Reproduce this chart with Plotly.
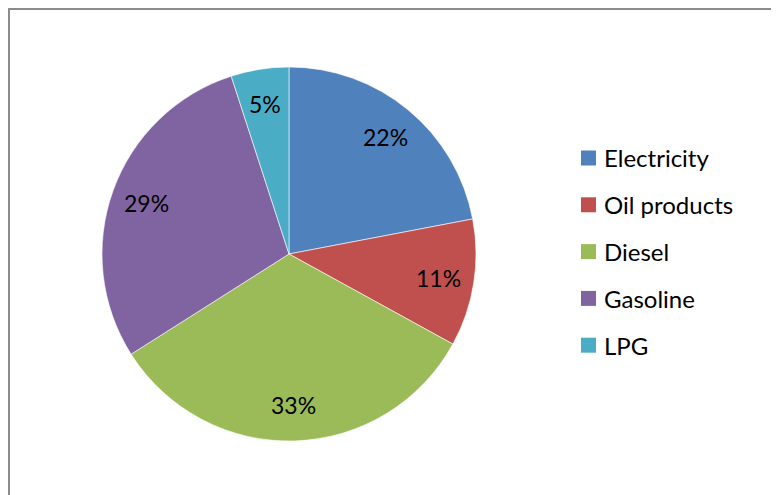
import numpy as np
import plotly.graph_objects as go

labels = ["Electricity", "Oil products", "Diesel", "Gasoline", "LPG"]
values = [22, 11, 33, 29, 5]
colors = ["#4F81BD", "#C0504D", "#9BBB59", "#8064A2", "#4BACC6"]

OFF = 8  # the page body adds an 8 px margin around the figure
W, H = 779, 495
FONT = "Lato, Open Sans, sans-serif"

cx, cy, R = 289 - OFF, 254 - OFF, 187  # pixel centre / radius of the pie

def px(x):
    return x / W

def py(y):
    return 1 - y / H

fig = go.Figure()
fig.add_trace(go.Pie(
    labels=labels, values=values, sort=False, direction="clockwise", rotation=0,
    marker=dict(colors=colors, line=dict(color="white", width=0.6)),
    textinfo="none", hoverinfo="label+percent", showlegend=False,
    domain=dict(x=[px(cx - R), px(cx + R)], y=[py(cy + R), py(cy - R)]),
))

# percentage labels at ~0.81 R along each slice bisector
vals = np.array(values, dtype=float)
frac = vals / vals.sum()
ends = np.cumsum(frac)
mids = ends - frac / 2
annotations = []
for f, m in zip(frac, mids):
    ang = 2 * np.pi * m
    lx = cx + 0.81 * R * np.sin(ang)
    ly = cy - 0.81 * R * np.cos(ang)
    annotations.append(dict(
        x=px(lx), y=py(ly), xref="paper", yref="paper", showarrow=False,
        text=f"{round(f * 100)}%", font=dict(family=FONT, size=23, color="#000000"),
        xanchor="center", yanchor="middle",
    ))

# manual legend
shapes = []
leg_x, leg_y0, leg_dy, sq = 581 - OFF, 158 - OFF, 46.8, 15
for i, (lab, col) in enumerate(zip(labels, colors)):
    yc = leg_y0 + i * leg_dy
    shapes.append(dict(type="rect", xref="paper", yref="paper",
                       x0=px(leg_x), x1=px(leg_x + sq), y0=py(yc + sq / 2), y1=py(yc - sq / 2),
                       fillcolor=col, line=dict(width=0)))
    annotations.append(dict(
        x=px(leg_x + sq + 6), y=py(yc), xref="paper", yref="paper", showarrow=False,
        text=lab, font=dict(family=FONT, size=24, color="#000000"),
        xanchor="left", yanchor="middle",
    ))

# chart border: only the left and top edges are visible in the crop
border = dict(color="#8C8C8C", width=2)
shapes.append(dict(type="line", xref="paper", yref="paper",
                   x0=px(1), x1=px(1), y0=py(H + 10), y1=py(0), line=border))
shapes.append(dict(type="line", xref="paper", yref="paper",
                   x0=px(0), x1=px(W + 10), y0=py(1), y1=py(1), line=border))

fig.update_layout(
    width=W, height=H, margin=dict(l=0, r=0, t=0, b=0),
    paper_bgcolor="white", plot_bgcolor="white",
    shapes=shapes, annotations=annotations,
    font=dict(family=FONT),
)
fig.write_html("out.html")
